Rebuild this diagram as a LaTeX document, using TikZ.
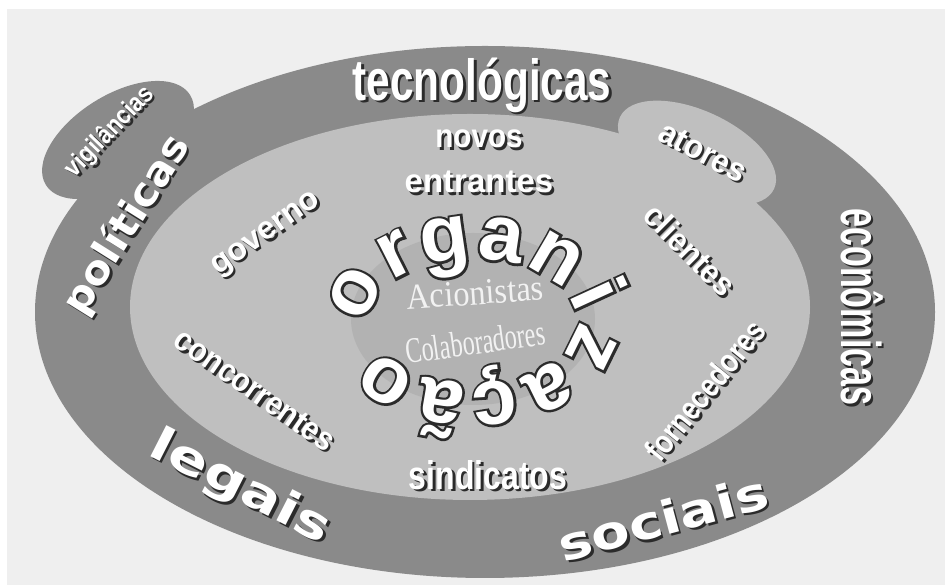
\documentclass[tikz,border=0pt]{standalone}
\usepackage{fontspec}
\setmainfont{Liberation Sans}
\newfontfamily\condfam{Liberation Sans}
\newfontfamily\widefam{DejaVu Sans}
\newfontfamily\romfam{Liberation Serif}
\newfontfamily\edgefam[BoldFeatures={FakeBold=6}]{Liberation Sans}
\usetikzlibrary{decorations.text}
\definecolor{paper}{HTML}{EFEFEF}
\definecolor{band}{HTML}{8A8A8A}
\definecolor{field}{HTML}{BFBFBF}
\definecolor{core}{HTML}{B2B2B2}
\definecolor{ink}{HTML}{2B2B2B}
\newcommand\fcond{\condfam\bfseries}
\newcommand\fwide{\widefam\bfseries}

\begin{document}
\begin{tikzpicture}[x=1pt, y=1pt,
  word/.style={text=white, inner sep=0pt},
  shade/.style={text=ink, inner sep=0pt},
  serif/.style={text=white!95!black, inner sep=0pt, font=\romfam\fontsize{36}{36}\selectfont},
  ring/.style 2 args={decorate, decoration={text along path, text align={fit to path},
               text={|\color{#1}#2\bfseries\fontsize{80}{80}\selectfont|organização}}}]
\useasboundingbox (0,0) rectangle (945,585);
\fill[white] (0,0) rectangle (945,585);
\fill[paper] (7,0) rectangle (945,576);
% outer band
\fill[band] (485,273) ellipse[x radius=450, y radius=266];
\fill[band, rotate around={32:(118,445)}] (118,445) ellipse[x radius=85, y radius=45];
% inner field
\fill[field] (470,278) ellipse[x radius=340, y radius=193];
\fill[field, rotate around={-25:(697,432)}] (697,432) ellipse[x radius=85, y radius=42];
\fill[core] (473,266) ellipse[x radius=122, y radius=86];
\coordinate (org) at (473,264);
% words with drop shadow
\foreach \nm/\x/\y/\ang/\sz/\xs/\fnt/\txt in {
    tec/482/500/0/58/.73/\fcond/tecnológicas,
    novos/479/446/0/33/.9/\fcond/novos,
    entr/479/403/0/33/1/\fcond/entrantes,
    sind/488/110/0/40/.8/\fcond/sindicatos,
    gov/267/350/35/32/1/\fcond/governo,
    conc/255/195/-35/33/.9/\fcond/concorrentes,
    ator/703/433/-28/33/.95/\fcond/atores,
    cli/690/335/-45/33/.93/\fcond/clientes,
    forn/705/195/51/33/.81/\fcond/fornecedores,
    vig/110/453/46/26/.87/\fcond/vigilâncias,
    econ/862/278/-90/56/.61/\fcond/econômicas,
    pol/127/360/58/40/1.06/\fwide/políticas,
    leg/240/97/-27/46/1.28/\fwide/legais,
    soc/663/67/15/46/1.22/\fwide/sociais}{
  \node[shade, rotate=\ang, xscale=\xs, font=\fnt\fontsize{\sz}{\sz}\selectfont]
    (\nm-sh) at ({\x+2.5},{\y-2.5}) {\txt};
  \node[word, rotate=\ang, xscale=\xs, font=\fnt\fontsize{\sz}{\sz}\selectfont]
    (\nm) at (\x,\y) {\txt};
}
% ring text: dark emboldened copy under the white one
\path[ring={ink}{\edgefam}] (369.4,258.6)
  arc[start angle=185, end angle=-155, x radius=104, y radius=62];
\path[ring={white}{\condfam}] (369.4,258.6)
  arc[start angle=185, end angle=-155, x radius=104, y radius=62];
\node[serif, rotate=4, xscale=.9] (acion) at (475,292) {Acionistas};
\node[serif, rotate=8, xscale=.67] (colab) at (475,243) {Colaboradores};
\end{tikzpicture}
\end{document}
